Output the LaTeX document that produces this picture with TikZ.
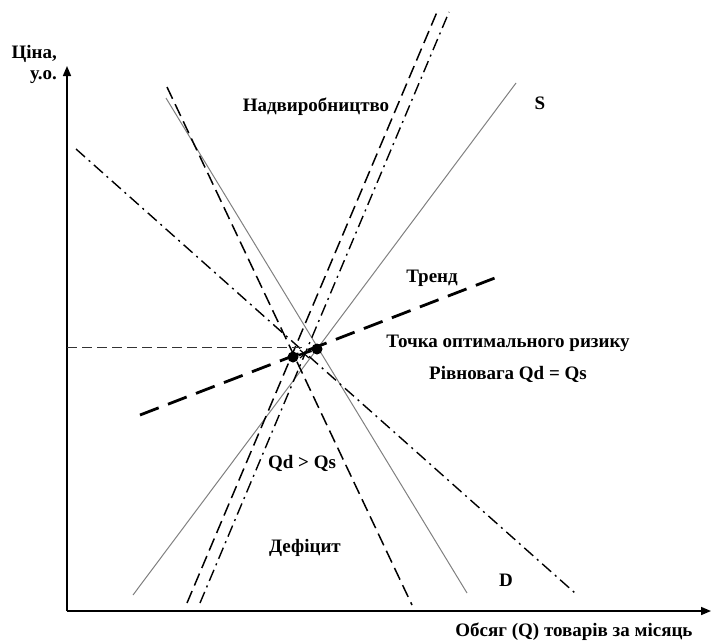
\documentclass[tikz,border=0pt]{standalone}
\usepackage{fontspec}
\setmainfont{Liberation Serif}
\usetikzlibrary{arrows.meta}
\begin{document}
\begin{tikzpicture}[x=1pt,y=-1pt,
  lbl/.style={font=\fontsize{19}{21}\selectfont\bfseries, inner sep=0pt},
  axis/.style={line width=1.6pt, -{Triangle[length=10pt,width=8pt]}},
  thinline/.style={gray, line width=1pt},
  dashline/.style={black, line width=1.5pt, dash pattern=on 13pt off 6pt},
  dashdotline/.style={black, line width=1.4pt, dash pattern=on 12pt off 5pt on 2pt off 5pt},
  trendline/.style={black, line width=2.8pt, dash pattern=on 20pt off 10pt},
  guide/.style={black!80, line width=1pt, dash pattern=on 10pt off 5pt},
  dot/.style={circle, fill=black, inner sep=0pt, minimum size=11pt}]
\useasboundingbox (0,0) rectangle (711,643);

% axes
\coordinate (O) at (67,611);
\coordinate (ytop) at (67,66);
\coordinate (xend) at (711,611);
\draw[axis] (O) -- (ytop);
\draw[axis] (O) -- (xend);

% supply and demand curves
\coordinate (s1) at (133,595);  \coordinate (s2) at (516,83);
\coordinate (d1) at (166,98);   \coordinate (d2) at (467,593);
\draw[thinline] (s1) -- (s2);
\draw[thinline] (d1) -- (d2);

% shifted curves
\coordinate (a1) at (167,87);   \coordinate (a2) at (412,605);
\coordinate (b1) at (76,149);   \coordinate (b2) at (575,593);
\coordinate (c1) at (187,603);  \coordinate (c2) at (437,12);
\coordinate (e1) at (200,603);  \coordinate (e2) at (449,12);
\draw[dashline] (a1) -- (a2);
\draw[dashdotline] (b1) -- (b2);
\draw[dashline] (c1) -- (c2);
\draw[dashdotline] (e1) -- (e2);

% trend
\coordinate (t1) at (140,415);  \coordinate (t2) at (500,276);
\draw[trendline] (t1) -- (t2);

% price level
\coordinate (p0) at (67,347);   \coordinate (p1) at (302,347);
\draw[guide] (p0) -- (p1);

% points on the trend
\node[dot] (q1) at (293,357) {};
\node[dot] (q2) at (317,349) {};
\draw[line width=2.4pt] (q1) -- (q2);
\draw[line width=1.2pt] (300,350) -- (309,358) (300,358) -- (309,350);

% labels
\node[lbl, anchor=east, align=right] (price) at (57,64) {Ціна,\\у.о.};
\node[lbl] (over) at (316,107) {Надвиробництво};
\node[lbl] (S) at (540,103) {S};
\node[lbl] (trend) at (432,278) {Тренд};
\node[lbl] (opt) at (508,343) {Точка оптимального ризику};
\node[lbl] (eq) at (508,374) {Рівновага Qd = Qs};
\node[lbl] (gt) at (302,463) {Qd > Qs};
\node[lbl] (def) at (305,548) {Дефіцит};
\node[lbl] (D) at (506,580) {D};
\node[lbl] (qty) at (574,632) {Обсяг (Q) товарів за місяць};
\end{tikzpicture}
\end{document}
